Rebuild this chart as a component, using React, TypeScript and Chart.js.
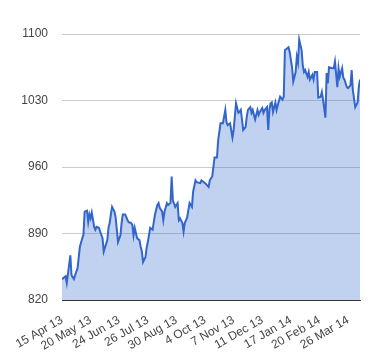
import React, { useEffect, useRef } from "react";
import { Chart, registerables } from "chart.js";

Chart.register(...registerables);

// trading-day index since 15 Apr 13
const days = [
  0, 3, 4, 7, 8, 10, 12, 13, 15, 17, 18, 19, 21, 22, 23, 24, 25, 27, 28, 29, 31, 32,
  34, 35, 36, 38, 39, 40, 41, 42, 44, 45, 46, 47, 49, 50, 51, 53, 55, 56, 58, 59,
  60, 61, 63, 65, 66, 67, 68, 70, 71, 72, 74, 76, 77, 78, 80, 81, 82, 84, 85, 86,
  88, 89, 91, 92, 93, 95, 97, 98, 99, 101, 102, 103, 105, 107, 109, 110, 112, 113,
  116, 117, 120, 123, 124, 126, 127, 128, 130, 131, 133, 134, 135, 137, 138, 139,
  141, 143, 144, 146, 148, 149, 150, 151, 152, 154, 155, 156, 158, 159, 160, 162,
  164, 165, 166, 168, 169, 170, 172, 173, 174, 175, 176, 177, 179, 180, 181, 183,
  185, 186, 187, 189, 190, 191, 193, 194, 196, 197, 198, 199, 201, 202, 203, 204,
  206, 207, 208, 210, 211, 212, 214, 215, 217, 218, 219, 221, 222, 223, 224, 227,
  228, 229, 231, 232, 233, 235, 236, 237, 239, 240, 242, 243, 244, 246, 248, 249, 250,
];

const closes = [
  842, 845, 838, 867, 846, 842, 850, 853, 876, 885, 889, 913, 914, 902, 910, 906, 912, 897, 894, 897, 896, 892,
  885, 871, 875, 883, 896, 901, 910, 918, 913, 907, 894, 881, 888, 901, 910, 910, 904, 902, 901, 899,
  888, 896, 885, 883, 876, 871, 860, 865, 875, 881, 896, 894, 902, 910, 920, 922, 917, 913, 904, 913,
  922, 920, 922, 950, 925, 918, 922, 904, 906, 901, 892, 901, 907, 922, 918, 934, 946, 944,
  943, 946, 943, 939, 946, 950, 960, 970, 970, 988, 1006, 1006, 1006, 1020, 1007, 1004,
  1006, 991, 999, 1027, 1017, 1018, 1020, 1010, 999, 1002, 1013, 1020, 1023, 1017, 1020, 1010,
  1020, 1015, 1018, 1022, 1017, 1020, 1023, 999, 1020, 1027, 1028, 1018, 1028, 1020, 1025, 1034,
  1031, 1034, 1083, 1085, 1086, 1081, 1065, 1050, 1060, 1076, 1070, 1094, 1083, 1067, 1060, 1062,
  1055, 1060, 1052, 1057, 1052, 1060, 1060, 1033, 1034, 1039, 1031, 1012, 1059, 1048, 1065, 1064,
  1064, 1071, 1044, 1064, 1055, 1064, 1054, 1052, 1044, 1043, 1046, 1062, 1041, 1023, 1028, 1044, 1052,
];

const tickLabels = [
  "15 Apr 13", "20 May 13", "24 Jun 13", "26 Jul 13", "30 Aug 13", "4 Oct 13",
  "7 Nov 13", "11 Dec 13", "17 Jan 14", "20 Feb 14", "26 Mar 14",
];
const tickStep = 24;
const yTicks = [820, 890, 960, 1030, 1100];

export default function App() {
  const ref = useRef<HTMLCanvasElement | null>(null);
  useEffect(() => {
    if (!ref.current) return;
    const font = { family: "'Liberation Sans', Arial, sans-serif", size: 12 };
    const chart = new Chart(ref.current, {
      type: "line",
      data: {
        datasets: [
          {
            data: days.map((d, i) => ({ x: d, y: closes[i] })),
            borderColor: "#3366cc",
            backgroundColor: "rgba(51,102,204,0.3)",
            borderWidth: 2,
            fill: "start",
            pointRadius: 0,
            tension: 0,
          },
        ],
      },
      options: {
        animation: false,
        responsive: false,
        layout: { padding: { left: 0, right: 20, top: 34, bottom: 0 } },
        plugins: { legend: { display: false }, tooltip: { enabled: false } },
        scales: {
          x: {
            type: "linear",
            min: 0,
            max: days[days.length - 1],
            grid: { display: false, drawTicks: false },
            border: { display: true, color: "#333333", width: 1 },
            afterBuildTicks: (s: any) => {
              s.ticks = tickLabels.map((_, i) => ({ value: i * tickStep }));
            },
            afterFit: (s: any) => {
              s.height = 60;
            },
            ticks: {
              autoSkip: false,
              maxRotation: 30,
              minRotation: 30,
              padding: 13,
              color: "#444444",
              font,
              callback: (v: any) => tickLabels[Math.round(Number(v) / tickStep)] ?? "",
            },
          },
          y: {
            min: yTicks[0],
            max: yTicks[yTicks.length - 1],
            afterBuildTicks: (s: any) => {
              s.ticks = yTicks.map((v) => ({ value: v }));
            },
            afterFit: (s: any) => {
              s.width = 62;
            },
            grid: { color: "#cccccc", drawTicks: false },
            border: { display: false },
            ticks: {
              padding: 14,
              color: "#444444",
              font,
              callback: (v: any) => String(v),
            },
          },
        },
      },
    });
    return () => chart.destroy();
  }, []);
  return (
    <div style={{ position: "fixed", left: 0, top: 0, width: 380, height: 360, background: "#fff" }}>
      <canvas ref={ref} width={380} height={360} />
    </div>
  );
}
